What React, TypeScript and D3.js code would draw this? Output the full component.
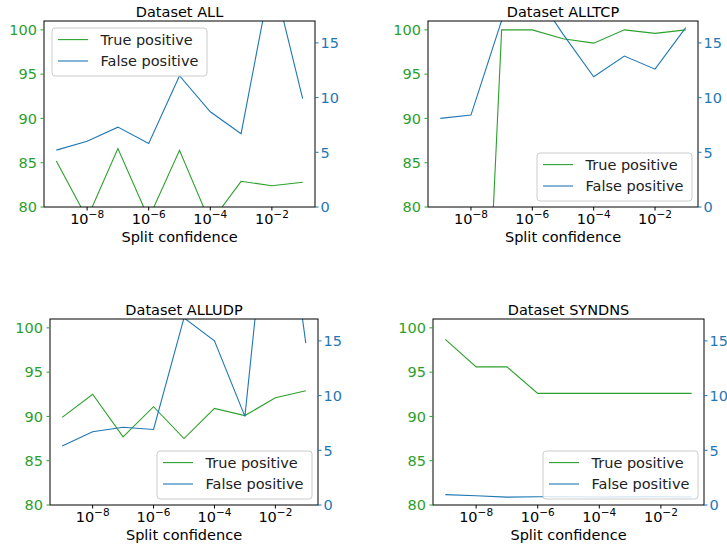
import React from "react";
import * as d3 from "d3";

const width = 727;
const height = 550;

const GREEN = "#2ca02c";
const BLUE = "#1f77b4";
const FONT = "DejaVu Sans, sans-serif";

// x values: split confidence
const splitConfidence = [1e-9, 1e-8, 1e-7, 1e-6, 1e-5, 1e-4, 1e-3, 1e-2, 1e-1];
const xTicks = [1e-8, 1e-6, 1e-4, 1e-2];
const leftTicks = [80, 85, 90, 95, 100];
const rightTicks = [0, 5, 10, 15];

const allTP = [85.2, 78.7, 86.6, 78.7, 86.4, 78.2, 82.9, 82.4, 82.8];
const allFP = [5.2, 6.0, 7.3, 5.8, 12.0, 8.7, 6.7, 21.4, 9.9];

const alltcpTP = [25, 25.5, 100, 100, 99.0, 98.5, 100, 99.6, 100];
const alltcpFP = [8.1, 8.4, 17.05, 20, 15.8, 11.9, 13.8, 12.6, 16.4];

const alludpTP = [89.9, 92.5, 87.7, 91.1, 87.5, 90.9, 90.1, 92.1, 92.9];
const alludpFP = [5.4, 6.7, 7.1, 6.9, 17.1, 15.0, 8.1, 35, 14.8];

const syndnsTP = [98.7, 95.6, 95.6, 92.6, 92.6, 92.6, 92.6, 92.6, 92.6];
const syndnsFP = [0.95, 0.85, 0.72, 0.76, 0.75, 0.73, 0.74, 0.76, 0.73];

const panels = [
  { id: "all", title: "Dataset ALL", tp: allTP, fp: allFP, box: { x: 44, y: 21, w: 271, h: 186 }, legend: "upper left" },
  { id: "tcp", title: "Dataset ALLTCP", tp: alltcpTP, fp: alltcpFP, box: { x: 428, y: 21, w: 270, h: 186 }, legend: "lower right" },
  { id: "udp", title: "Dataset ALLUDP", tp: alludpTP, fp: alludpFP, box: { x: 50, y: 319, w: 268, h: 186 }, legend: "lower right" },
  { id: "dns", title: "Dataset SYNDNS", tp: syndnsTP, fp: syndnsFP, box: { x: 433, y: 319, w: 271, h: 186 }, legend: "lower right" },
];

const fs = 14.5;

function Panel({ id, title, tp, fp, box, legend }) {
  const { x, y, w, h } = box;
  const xScale = d3.scaleLog().domain([10 ** -9.4, 10 ** -0.6]).range([0, w]);
  const yLeft = d3.scaleLinear().domain([80, 101]).range([h, 0]);
  const yRight = d3.scaleLinear().domain([0, 17]).range([h, 0]);

  const tpLine = d3
    .line<number>()
    .x((_, i) => xScale(splitConfidence[i]))
    .y(d => yLeft(d));
  const fpLine = d3
    .line<number>()
    .x((_, i) => xScale(splitConfidence[i]))
    .y(d => yRight(d));

  const lw = 155;
  const lh = 48;
  const pad = 6;
  const lx = legend === "upper left" ? pad + 2 : w - lw - pad;
  const ly = legend === "upper left" ? pad + 1 : h - lh - pad;

  return (
    <g transform={`translate(${x},${y})`}>
      <defs>
        <clipPath id={`clip-${id}`}>
          <rect width={w} height={h} />
        </clipPath>
      </defs>
      <g clipPath={`url(#clip-${id})`} fill="none" strokeWidth={1.1}>
        <path d={tpLine(tp)} stroke={GREEN} />
        <path d={fpLine(fp)} stroke={BLUE} />
      </g>

      {/* legend */}
      <g transform={`translate(${lx},${ly})`}>
        <rect width={lw} height={lh} rx={3} fill="white" fillOpacity={0.8} stroke="#cccccc" />
        {[
          { label: "True positive", color: GREEN },
          { label: "False positive", color: BLUE },
        ].map((d, i) => (
          <g key={i} transform={`translate(0,${11.6 + i * 21.4})`}>
            <line x1={6} x2={36} stroke={d.color} strokeWidth={1.1} />
            <text x={48.5} y={5} fontSize={fs} fill="#222">
              {d.label}
            </text>
          </g>
        ))}
      </g>

      <rect width={w} height={h} fill="none" stroke="black" strokeWidth={1} />

      {/* x axis */}
      {xTicks.map((t, i) => (
        <g key={i} transform={`translate(${xScale(t)},${h})`}>
          <line y2={3.5} stroke="black" />
          <text y={17} textAnchor="middle" fontSize={fs} fill="black">
            10
            <tspan dy={-6} fontSize={10.5}>
              {"\u2212" + Math.round(-Math.log10(t))}
            </tspan>
          </text>
        </g>
      ))}
      <text x={w / 2} y={h + 35} textAnchor="middle" fontSize={fs} fill="black">
        Split confidence
      </text>

      {/* left axis */}
      {leftTicks.map((t, i) => (
        <g key={i} transform={`translate(0,${yLeft(t)})`}>
          <line x2={-3.5} stroke={GREEN} />
          <text x={-7} dy="0.36em" textAnchor="end" fontSize={fs} fill={GREEN}>
            {t}
          </text>
        </g>
      ))}

      {/* right axis */}
      {rightTicks.map((t, i) => (
        <g key={i} transform={`translate(${w},${yRight(t)})`}>
          <line x2={3.5} stroke={BLUE} />
          <text x={5.5} dy="0.36em" textAnchor="start" fontSize={fs} fill={BLUE}>
            {t}
          </text>
        </g>
      ))}

      <text x={w / 2} y={-4.5} textAnchor="middle" fontSize={fs} fill="black">
        {title}
      </text>
    </g>
  );
}

export default function App() {
  return (
    <svg
      width={width}
      height={height}
      style={{ position: "absolute", left: 0, top: 0, display: "block" }}
      fontFamily={FONT}
    >
      <rect width={width} height={height} fill="white" />
      {panels.map(p => (
        <Panel key={p.id} {...p} />
      ))}
    </svg>
  );
}
